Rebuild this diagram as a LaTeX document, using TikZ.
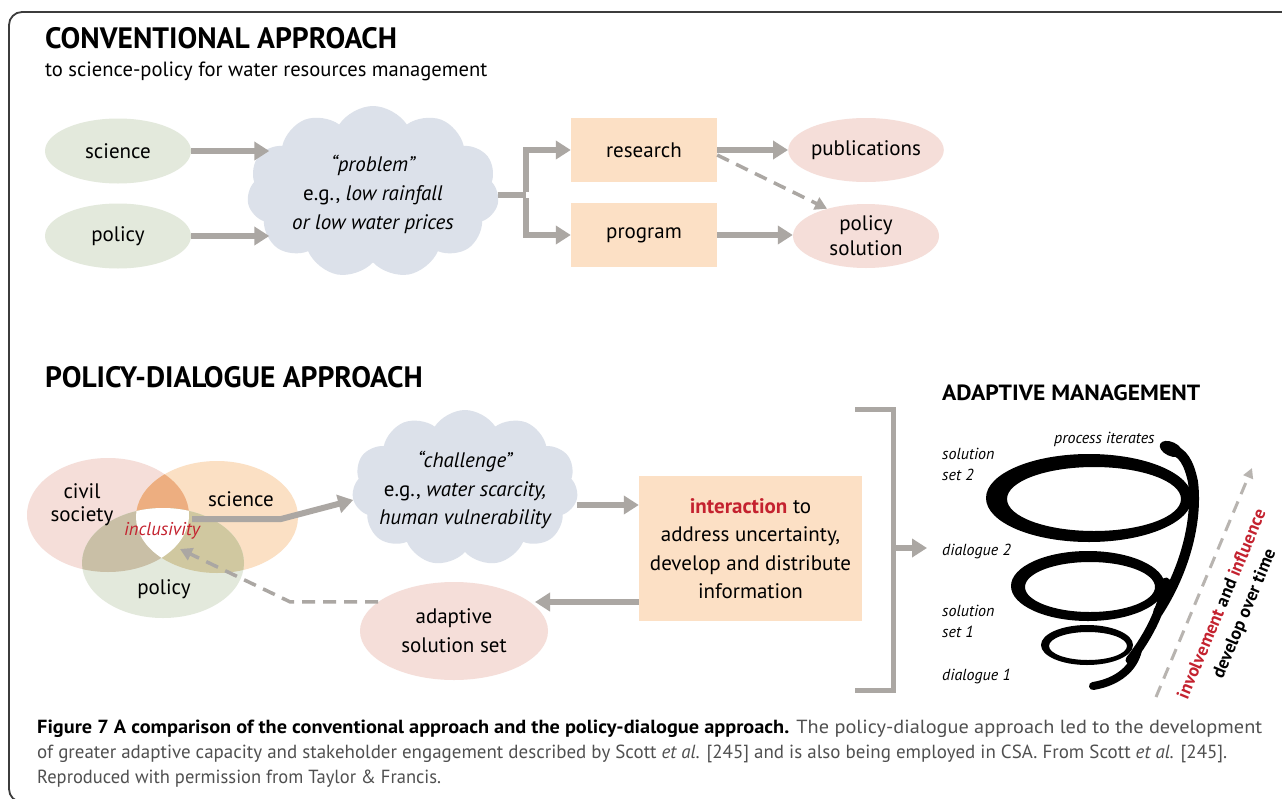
\documentclass[tikz,border=0pt]{standalone}
\usepackage{fontspec}
\usepackage{graphicx}
\setmainfont{PT Sans}
\usetikzlibrary{arrows.meta,shapes.geometric,shapes.symbols}
\definecolor{agray}{RGB}{171,167,163}
\definecolor{peach}{RGB}{252,224,197}
\definecolor{pinkc}{RGB}{245,222,217}
\definecolor{greenc}{RGB}{227,233,220}
\definecolor{orangec}{RGB}{251,224,196}
\definecolor{cloudc}{RGB}{220,225,234}
\definecolor{redc}{RGB}{196,34,47}
\definecolor{capgray}{RGB}{80,80,80}
\definecolor{poc}{RGB}{237,174,128}
\definecolor{pgc}{RGB}{201,191,166}
\definecolor{ogc}{RGB}{208,200,160}
\definecolor{dgray}{RGB}{184,180,176}
\definecolor{framec}{RGB}{60,60,60}
\begin{document}
\begin{tikzpicture}[x=1pt,y=-1pt,
  txt/.style={font=\fontsize{21}{25}\selectfont, align=center, inner sep=0pt},
  ell/.style={ellipse, inner sep=0pt, minimum width=146pt, minimum height=65pt, txt},
  boxn/.style={fill=peach, inner sep=0pt, minimum width=146pt, minimum height=64pt, txt},
  cloudn/.style={cloud, cloud puffs=11, cloud puff arc=115, cloud ignores aspect, fill=cloudc, inner sep=0pt},
  venn/.style={ellipse, inner sep=0pt, minimum width=162pt},
  arr/.style={draw=agray, line width=6pt, -{Triangle[width=18pt,length=15pt]}},
  gline/.style={draw=agray, line width=6pt},
  darr/.style={draw=agray, line width=3.5pt, dash pattern=on 13pt off 8pt, -{Triangle[width=13pt,length=12pt]}},
  head/.style={font=\fontsize{29.5}{31}\selectfont\bfseries, anchor=base west, inner sep=0pt},
  slab/.style={font=\fontsize{16}{21}\selectfont\itshape, anchor=base west, inner sep=0pt, align=left},
  ring/.style={fill=black, even odd rule},
  swirl/.style={draw=black, line cap=round, line width=10pt},
  rottxt/.style={rotate=67.3, font=\fontsize{18}{20}\selectfont\bfseries, inner sep=0pt},
]
\useasboundingbox (0,0) rectangle (1282,798);
\fill[white] (0,0) rectangle (1282,798);
\draw[framec, line width=1.8pt, rounded corners=13pt] (9,12) rectangle (1320,802);

% ---------------- conventional approach
\node[head] (t1) at (45,48) {CONVENTIONAL APPROACH};
\node[font=\fontsize{20.6}{24}\selectfont, anchor=base west, inner sep=0pt] (t1s) at (45,76) {to science-policy for water resources management};

\node[ell, fill=greenc] (sci) at (118,151) {science};
\node[ell, fill=greenc] (pol1) at (118,236) {policy};
\node[cloudn, minimum width=252pt, minimum height=172pt] (prob) at (373,192) {};
\node[txt, font=\fontsize{21}{29}\selectfont\itshape] (probt) at (373,194) {“problem”\\{\upshape e.g.,} low rainfall\\or low water prices};
\node[boxn] (res) at (644,150) {research};
\node[boxn] (prog) at (644,235) {program};
\node[ell, fill=pinkc, minimum height=64pt] (pub) at (866,150) {publications};
\node[ell, fill=pinkc, minimum height=64pt] (polsol) at (866,236) {policy\\solution};

\draw[arr] (sci.east) -- ([xshift=21pt]prob.west |- sci.east);
\draw[arr] (pol1.east) -- ([xshift=21pt]prob.west |- pol1.east);
\coordinate (split) at ([xshift=28pt,yshift=-3pt]prob.east);
\draw[gline] ([yshift=-3pt]prob.east) -- (split);
\draw[arr] ([yshift=3pt]split) |- (res.west);
\draw[arr] ([yshift=-3pt]split) |- (prog.west);
\draw[arr] (res.east) -- (pub.west);
\draw[arr] (prog.east) -- (prog.east -| polsol.west);
\draw[darr] ([yshift=-5pt]res.east) -- (polsol.145);

% ---------------- policy-dialogue approach
\node[head] (t2) at (45,387) {POLICY-DIALOGUE APPROACH};

\node[venn, fill=pinkc, minimum height=114pt] (civ) at (108,515) {};
\node[venn, fill=orangec, minimum height=112pt] (sci2) at (217,517) {};
\node[venn, fill=greenc, minimum height=110pt] (pol2) at (163,563) {};
\begin{scope}
  \clip (108,515) ellipse [x radius=81pt, y radius=57pt];
  \fill[poc] (217,517) ellipse [x radius=81pt, y radius=56pt];
  \fill[pgc] (163,563) ellipse [x radius=81pt, y radius=55pt];
\end{scope}
\begin{scope}
  \clip (217,517) ellipse [x radius=81pt, y radius=56pt];
  \fill[ogc] (163,563) ellipse [x radius=81pt, y radius=55pt];
\end{scope}
\begin{scope}
  \clip (108,515) ellipse [x radius=81pt, y radius=57pt];
  \clip (217,517) ellipse [x radius=81pt, y radius=56pt];
  \fill[white] (163,563) ellipse [x radius=81pt, y radius=55pt];
\end{scope}
\node[txt, font=\fontsize{21}{23}\selectfont] (civt) at (82,505) {civil\\society};
\node[txt] (scit) at (241,499) {science};
\node[txt] (polt) at (164,589) {policy};
\node[txt, font=\fontsize{18.5}{22}\selectfont\itshape, text=redc] (incl) at (162,531) {inclusivity};

\node[cloudn, minimum width=226pt, minimum height=156pt] (chal) at (465,488) {};
\node[txt, font=\fontsize{21}{28.5}\selectfont\itshape] (chalt) at (465,490) {“challenge”\\{\upshape e.g.,} water scarcity,\\human vulnerability};

\node[fill=peach, minimum width=223pt, minimum height=145pt, txt, font=\fontsize{21}{28.5}\selectfont] (inter) at (750.5,548.5) {{\color{redc}\bfseries interaction} to\\address uncertainty,\\develop and distribute\\information};
\node[ellipse, fill=pinkc, minimum width=188pt, minimum height=98pt, txt, font=\fontsize{21}{29}\selectfont] (adapt) at (454,631) {adaptive\\solution set};

\coordinate (vout) at (192,519);
\draw[gline, -{Triangle[width=18pt,length=15pt]}] (vout) -- ++(89,0) -- ([yshift=-12pt]chal.west);
\draw[arr] ([yshift=-17pt]chal.east) -- ([yshift=-17pt]chal.east -| inter.west);
\coordinate (adin) at (535,602);
\draw[arr] (inter.west |- adin) -- (adin);
\coordinate (inclin) at ([xshift=18pt,yshift=-18pt]incl.center);
\draw[darr] (adapt.159) -- ++(-88,0) -- (inclin);

% bracket
\draw[gline, line width=5pt] (855,409) -- (893,409) -- (893,690) -- (855,690);
\coordinate (brm) at (893,548);
\coordinate (amin) at (927,548);
\draw[arr] (brm) -- (amin);

% ---------------- adaptive management
\node[anchor=base west, inner sep=0pt] (t3) at (942,400) {\resizebox{258pt}{\height}{\fontsize{22}{24}\selectfont\bfseries ADAPTIVE MANAGEMENT}};
\node[slab] (pit) at (1054,443) {process iterates};
\node[slab] (ss2) at (942,480) {solution\\set 2};
\node[slab] (dl2) at (942,555) {dialogue 2};
\node[slab] (ss1) at (942,637) {solution\\set 1};
\node[slab] (dl1) at (942,680) {dialogue 1};

% spiral
\fill[ring] (1089,498) ellipse [x radius=103pt, y radius=44pt] (1094,499) ellipse [x radius=87pt, y radius=32pt];
\fill[ring] (1088,586) ellipse [x radius=77pt, y radius=35pt] (1090,587) ellipse [x radius=65pt, y radius=25pt];
\fill[ring] (1087,645) ellipse [x radius=46pt, y radius=20pt] (1088,646) ellipse [x radius=39pt, y radius=14pt];
\draw[swirl, line width=8pt] (1093,686) .. controls (1118,682) and (1134,668) .. (1138,650);
\draw[swirl, line width=9pt] (1130,660) .. controls (1152,632) and (1163,605) .. (1166,582);
\draw[swirl] (1158,612) .. controls (1184,572) and (1198,522) .. (1193,482) .. controls (1189,462) and (1182,452) .. (1172,450);
\fill[black, rotate around={-25:(1171,449)}] (1171,449) ellipse [x radius=12pt, y radius=7pt];

% time arrow and labels
\coordinate (ta) at (1156,697);
\coordinate (tb) at (1252,468);
\draw[draw=dgray, line width=3pt, dash pattern=on 12pt off 8pt, -{Triangle[width=10pt,length=10pt]}] (ta) -- (tb);
\node[rottxt] (inv) at (1221,604) {{\color{redc}involvement} and {\color{redc}influence}};
\node[rottxt] (dev) at (1245,614) {develop over time};

% ---------------- caption
\node[anchor=base west, inner sep=0pt] (cap1) at (37,733) {\resizebox{1225pt}{\height}{\fontsize{19}{24}\selectfont\textbf{Figure 7 A comparison of the conventional approach and the policy-dialogue approach.} {\color{capgray}The policy-dialogue approach led to the development}}};
\node[anchor=base west, inner sep=0pt, text=capgray] (cap2) at (37,758) {\resizebox{1190pt}{\height}{\fontsize{19}{24}\selectfont of greater adaptive capacity and stakeholder engagement described by Scott \textit{et al.} [245] and is also being employed in CSA. From Scott \textit{et al.} [245].}};
\node[anchor=base west, inner sep=0pt, text=capgray] (cap3) at (37,783) {\resizebox{404pt}{\height}{\fontsize{19}{24}\selectfont Reproduced with permission from Taylor \& Francis.}};
\end{tikzpicture}
\end{document}
